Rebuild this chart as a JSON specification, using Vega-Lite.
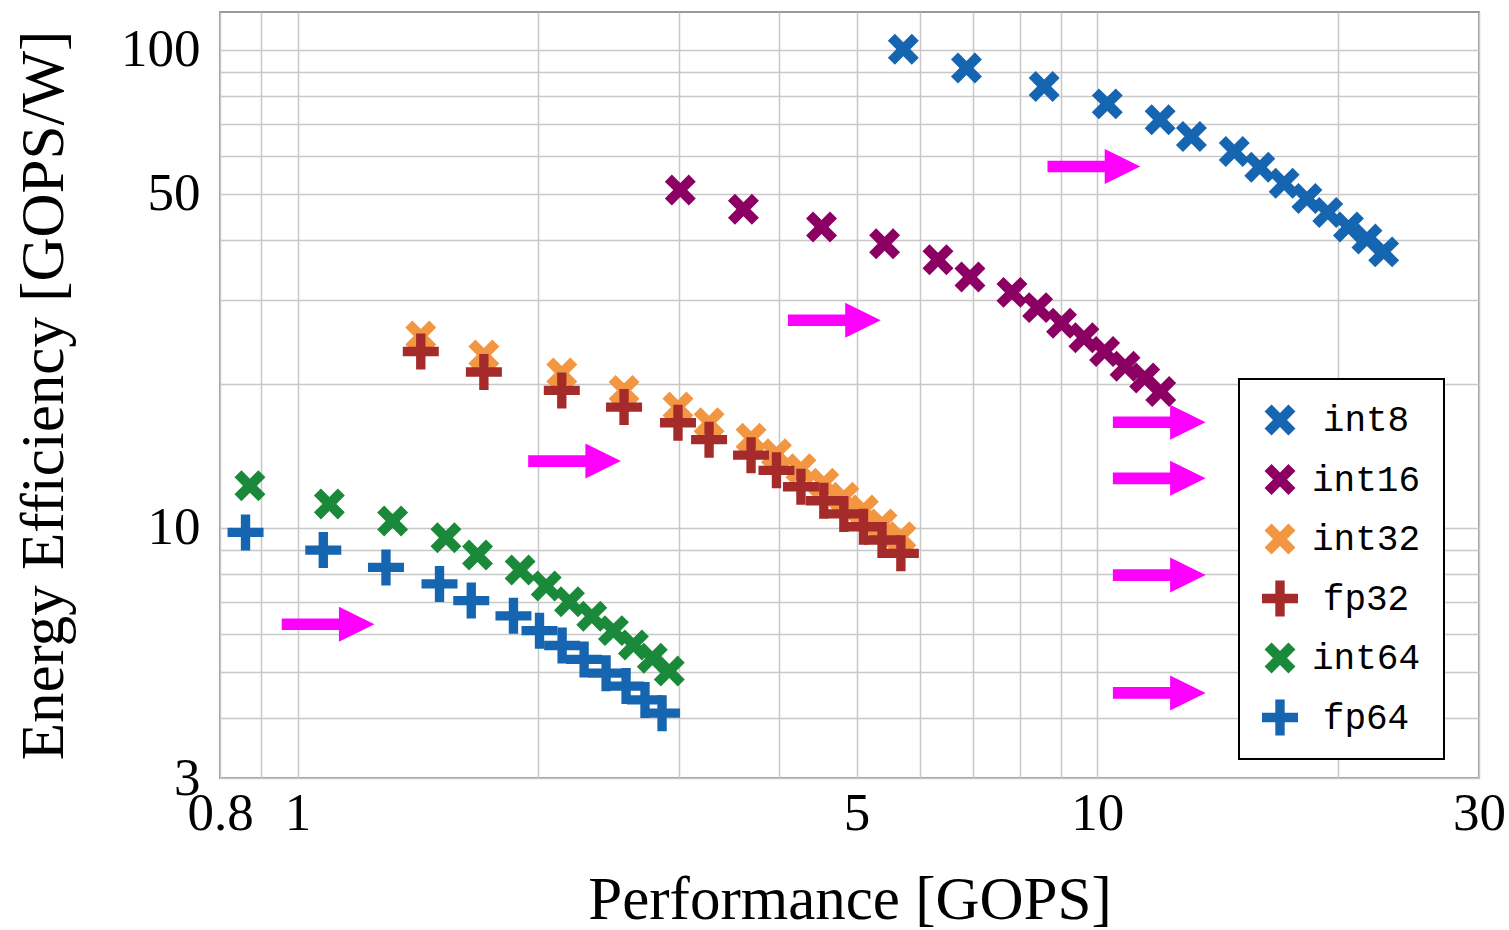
{
  "$schema": "https://vega.github.io/schema/vega-lite/v6.json",
  "width": 1259,
  "height": 766,
  "autosize": {"type": "none"},
  "padding": {"left": 220, "top": 12, "right": 30, "bottom": 152},
  "background": "white",
  "config": {
    "view": {"stroke": "#9a9a9a", "strokeWidth": 2},
    "font": "Liberation Serif",
    "legend": {"strokeWidth": 2}
  },
  "datasets": {
    "pts": [
      {"s": "int8", "x": 5.72, "y": 100.3}, {"s": "int8", "x": 6.86, "y": 91.6}, {"s": "int8", "x": 8.58, "y": 83.8}, {"s": "int8", "x": 10.29, "y": 77.1}, {"s": "int8", "x": 11.98, "y": 71.4}, {"s": "int8", "x": 13.11, "y": 65.9}, {"s": "int8", "x": 14.83, "y": 61.3}, {"s": "int8", "x": 15.96, "y": 56.8}, {"s": "int8", "x": 17.12, "y": 52.6}, {"s": "int8", "x": 18.28, "y": 48.9}, {"s": "int8", "x": 19.41, "y": 45.7}, {"s": "int8", "x": 20.6, "y": 42.6}, {"s": "int8", "x": 21.73, "y": 40.2}, {"s": "int8", "x": 22.8, "y": 37.8},
      {"s": "int16", "x": 3.01, "y": 50.9}, {"s": "int16", "x": 3.61, "y": 46.4}, {"s": "int16", "x": 4.52, "y": 42.6}, {"s": "int16", "x": 5.42, "y": 39.3}, {"s": "int16", "x": 6.32, "y": 36.4}, {"s": "int16", "x": 6.93, "y": 33.5}, {"s": "int16", "x": 7.82, "y": 31.1}, {"s": "int16", "x": 8.42, "y": 28.9}, {"s": "int16", "x": 9.02, "y": 26.8}, {"s": "int16", "x": 9.62, "y": 25.0}, {"s": "int16", "x": 10.21, "y": 23.4}, {"s": "int16", "x": 10.83, "y": 21.8}, {"s": "int16", "x": 11.46, "y": 20.6}, {"s": "int16", "x": 12.0, "y": 19.3},
      {"s": "int32", "x": 1.426, "y": 25.2}, {"s": "int32", "x": 1.71, "y": 23.0}, {"s": "int32", "x": 2.14, "y": 21.1}, {"s": "int32", "x": 2.56, "y": 19.4}, {"s": "int32", "x": 2.99, "y": 17.9}, {"s": "int32", "x": 3.27, "y": 16.6}, {"s": "int32", "x": 3.69, "y": 15.4}, {"s": "int32", "x": 3.97, "y": 14.3}, {"s": "int32", "x": 4.26, "y": 13.3}, {"s": "int32", "x": 4.55, "y": 12.4}, {"s": "int32", "x": 4.82, "y": 11.6}, {"s": "int32", "x": 5.1, "y": 10.9}, {"s": "int32", "x": 5.38, "y": 10.2}, {"s": "int32", "x": 5.68, "y": 9.59},
      {"s": "fp32", "x": 1.426, "y": 23.4}, {"s": "fp32", "x": 1.71, "y": 21.2}, {"s": "fp32", "x": 2.14, "y": 19.4}, {"s": "fp32", "x": 2.56, "y": 17.9}, {"s": "fp32", "x": 2.99, "y": 16.6}, {"s": "fp32", "x": 3.27, "y": 15.3}, {"s": "fp32", "x": 3.69, "y": 14.2}, {"s": "fp32", "x": 3.97, "y": 13.2}, {"s": "fp32", "x": 4.26, "y": 12.2}, {"s": "fp32", "x": 4.55, "y": 11.4}, {"s": "fp32", "x": 4.82, "y": 10.7}, {"s": "fp32", "x": 5.1, "y": 10.06}, {"s": "fp32", "x": 5.38, "y": 9.44}, {"s": "fp32", "x": 5.68, "y": 8.85},
      {"s": "int64", "x": 0.872, "y": 12.26}, {"s": "int64", "x": 1.096, "y": 11.23}, {"s": "int64", "x": 1.315, "y": 10.34}, {"s": "int64", "x": 1.533, "y": 9.54}, {"s": "int64", "x": 1.679, "y": 8.78}, {"s": "int64", "x": 1.898, "y": 8.17}, {"s": "int64", "x": 2.046, "y": 7.56}, {"s": "int64", "x": 2.188, "y": 7.01}, {"s": "int64", "x": 2.333, "y": 6.54}, {"s": "int64", "x": 2.483, "y": 6.1}, {"s": "int64", "x": 2.63, "y": 5.69}, {"s": "int64", "x": 2.777, "y": 5.34}, {"s": "int64", "x": 2.916, "y": 5.02},
      {"s": "fp64", "x": 0.861, "y": 9.79}, {"s": "fp64", "x": 1.077, "y": 8.99}, {"s": "fp64", "x": 1.29, "y": 8.27}, {"s": "fp64", "x": 1.505, "y": 7.64}, {"s": "fp64", "x": 1.649, "y": 7.05}, {"s": "fp64", "x": 1.862, "y": 6.55}, {"s": "fp64", "x": 2.007, "y": 6.1}, {"s": "fp64", "x": 2.142, "y": 5.68}, {"s": "fp64", "x": 2.282, "y": 5.31}, {"s": "fp64", "x": 2.431, "y": 4.97}, {"s": "fp64", "x": 2.575, "y": 4.67}, {"s": "fp64", "x": 2.719, "y": 4.37}, {"s": "fp64", "x": 2.856, "y": 4.1}
    ],
    "arrows": [
      {"x": 9.9, "y": 57.0}, {"x": 4.69, "y": 27.2}, {"x": 2.22, "y": 13.8}, {"x": 1.092, "y": 6.29},
      {"x": 11.95, "y": 16.64}, {"x": 11.95, "y": 12.7}, {"x": 11.95, "y": 7.97}, {"x": 11.95, "y": 4.52}
    ]
  },
  "encoding": {
    "x": {
      "field": "x", "type": "quantitative",
      "scale": {"type": "log", "domain": [0.8, 30], "nice": false},
      "axis": {
        "title": "Performance [GOPS]",
        "values": [0.8, 0.9, 1, 2, 3, 4, 5, 6, 7, 8, 9, 10, 20, 30],
        "labelExpr": "indexof([0.8, 1, 5, 10, 30], datum.value) >= 0 ? '' + datum.value : ''",
        "grid": true, "gridColor": "#c8c8c8", "gridWidth": 1.5,
        "domain": false, "ticks": false,
        "labelFont": "Liberation Serif", "labelFontSize": 53, "labelColor": "black",
        "labelPadding": 9, "labelFlush": false, "labelOverlap": false, "labelBound": false,
        "titleFont": "Liberation Serif", "titleFontSize": 61, "titleFontWeight": "normal", "titleColor": "black",
        "titleX": 629.5, "titleY": 140, "titleBaseline": "alphabetic", "titleAlign": "center"
      }
    },
    "y": {
      "field": "y", "type": "quantitative",
      "scale": {"type": "log", "domain": [3, 120], "nice": false},
      "axis": {
        "title": "Energy Efficiency [GOPS/W]",
        "values": [3, 4, 5, 6, 7, 8, 9, 10, 20, 30, 40, 50, 60, 70, 80, 90, 100],
        "labelExpr": "indexof([3, 10, 50, 100], datum.value) >= 0 ? '' + datum.value : ''",
        "grid": true, "gridColor": "#c8c8c8", "gridWidth": 1.5,
        "domain": false, "ticks": false,
        "labelFont": "Liberation Serif", "labelFontSize": 53, "labelColor": "black",
        "labelPadding": 20, "labelFlush": false, "labelOverlap": false, "labelBound": false,
        "titleFont": "Liberation Serif", "titleFontSize": 61, "titleFontWeight": "normal", "titleColor": "black",
        "titleAngle": 270, "titleX": -158, "titleY": 383, "titleBaseline": "alphabetic", "titleAlign": "center"
      }
    }
  },
  "layer": [
    {
      "data": {"name": "pts"},
      "mark": {"type": "point", "filled": true, "opacity": 1, "size": 1296, "strokeWidth": 0},
      "encoding": {
        "color": {
          "field": "s", "type": "nominal",
          "scale": {"domain": ["int8", "int16", "int32", "fp32", "int64", "fp64"], "range": ["#1565b0", "#8b0062", "#f39642", "#a52a2a", "#1a8a3a", "#1565b0"]},
          "legend": {"orient": "none", "legendX": 1019, "legendY": 367, "title": null, "strokeColor": "black", "fillColor": "white", "padding": 23, "labelFont": "Liberation Mono", "labelFontSize": 36, "labelColor": "black", "labelAlign": "center", "labelOffset": 68, "symbolSize": 1296, "symbolStrokeWidth": 0, "symbolOpacity": 1, "rowPadding": 23.5, "cornerRadius": 0}
        },
        "shape": {
          "field": "s", "type": "nominal",
          "scale": {"domain": ["int8", "int16", "int32", "fp32", "int64", "fp64"], "range": [
            "M0,-0.39L0.47,-0.86L0.86,-0.47L0.39,0L0.86,0.47L0.47,0.86L0,0.39L-0.47,0.86L-0.86,0.47L-0.39,0L-0.86,-0.47L-0.47,-0.86Z",
            "M0,-0.39L0.47,-0.86L0.86,-0.47L0.39,0L0.86,0.47L0.47,0.86L0,0.39L-0.47,0.86L-0.86,0.47L-0.39,0L-0.86,-0.47L-0.47,-0.86Z",
            "M0,-0.39L0.47,-0.86L0.86,-0.47L0.39,0L0.86,0.47L0.47,0.86L0,0.39L-0.47,0.86L-0.86,0.47L-0.39,0L-0.86,-0.47L-0.47,-0.86Z",
            "M-0.26,-1L0.26,-1L0.26,-0.26L1,-0.26L1,0.26L0.26,0.26L0.26,1L-0.26,1L-0.26,0.26L-1,0.26L-1,-0.26L-0.26,-0.26Z",
            "M0,-0.39L0.47,-0.86L0.86,-0.47L0.39,0L0.86,0.47L0.47,0.86L0,0.39L-0.47,0.86L-0.86,0.47L-0.39,0L-0.86,-0.47L-0.47,-0.86Z",
            "M-0.26,-1L0.26,-1L0.26,-0.26L1,-0.26L1,0.26L0.26,0.26L0.26,1L-0.26,1L-0.26,0.26L-1,0.26L-1,-0.26L-0.26,-0.26Z"
          ]},
          "legend": {"orient": "none", "legendX": 1019, "legendY": 367, "title": null, "strokeColor": "black", "fillColor": "white", "padding": 23, "labelFont": "Liberation Mono", "labelFontSize": 36, "labelColor": "black", "labelAlign": "center", "labelOffset": 68, "symbolSize": 1296, "symbolStrokeWidth": 0, "symbolOpacity": 1, "rowPadding": 23.5, "cornerRadius": 0}
        }
      }
    },
    {
      "data": {"name": "arrows"},
      "mark": {"type": "point", "filled": true, "opacity": 1, "size": 1225, "color": "#ff00ff", "strokeWidth": 0,
        "shape": "M-2.65,-0.33L0.62,-0.33L0.62,-1L2.65,0L0.62,1L0.62,0.33L-2.65,0.33Z"}
    }
  ]
}
